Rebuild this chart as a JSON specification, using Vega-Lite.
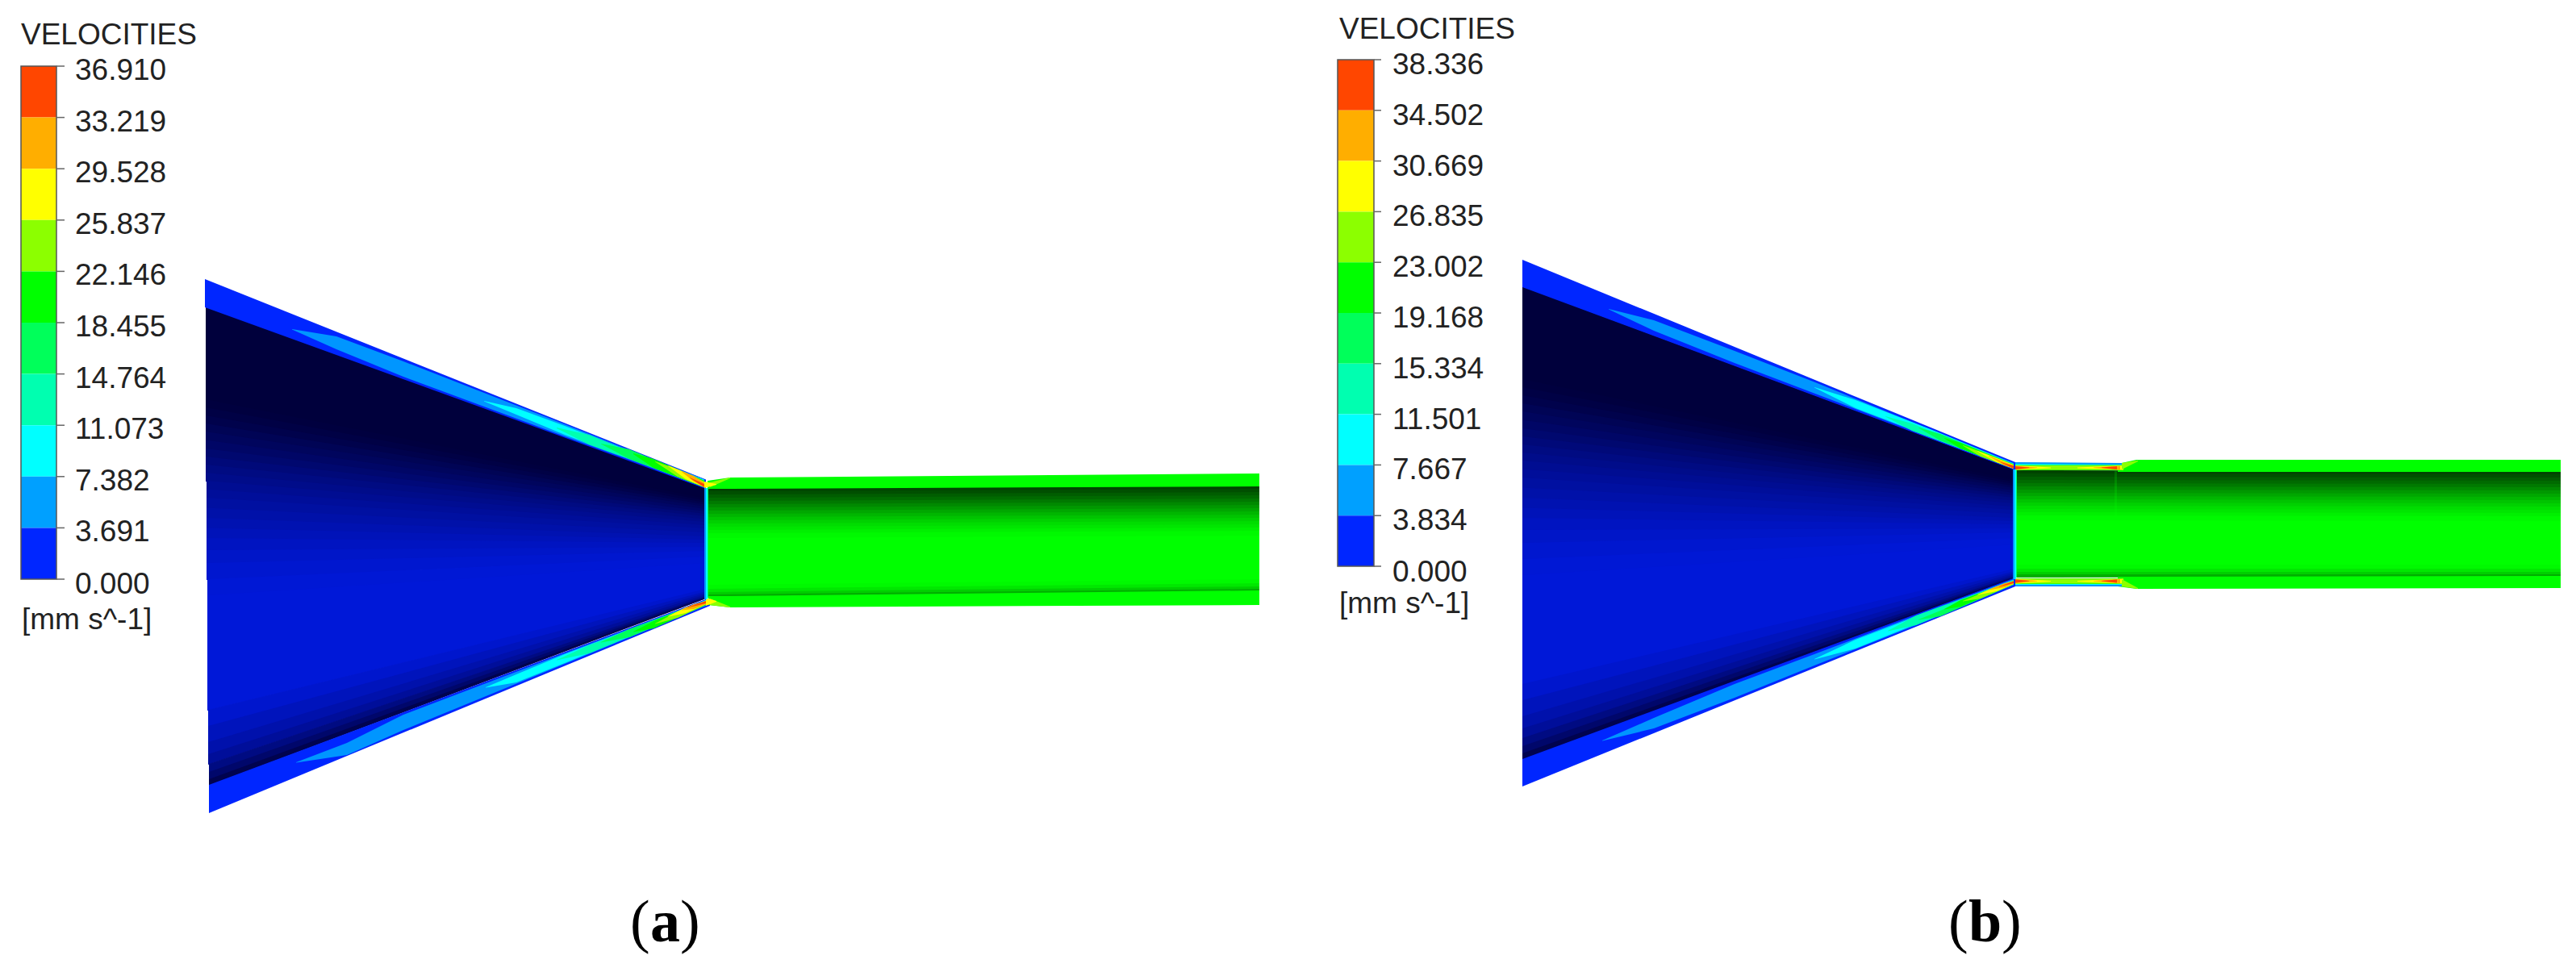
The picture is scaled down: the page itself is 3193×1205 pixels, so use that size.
{"$schema":"https://vega.github.io/schema/vega-lite/v6.json","width":3193,"height":1205,"autosize":{"type":"fit","contains":"padding"},"padding":0,"background":"white","config":{"view":{"stroke":null}},
"datasets":{
"blue":[
{"id":"a0","L":0,"x":255,"y":380,"y2":496},{"id":"a0","L":0,"x":875,"y":605,"y2":619},
{"id":"a1","L":0.02,"x":255,"y":495,"y2":506},{"id":"a1","L":0.02,"x":875,"y":618,"y2":621.5},
{"id":"a2","L":0.06,"x":255,"y":505,"y2":516},{"id":"a2","L":0.06,"x":875,"y":620.5,"y2":624},
{"id":"a3","L":0.1,"x":255,"y":515,"y2":526},{"id":"a3","L":0.1,"x":875,"y":623,"y2":626.5},
{"id":"a4","L":0.16,"x":255,"y":525,"y2":536},{"id":"a4","L":0.16,"x":875,"y":625.5,"y2":629},
{"id":"a5","L":0.21,"x":255,"y":535,"y2":546.5},{"id":"a5","L":0.21,"x":875,"y":628,"y2":632},
{"id":"a6","L":0.27,"x":255,"y":545.5,"y2":557},{"id":"a6","L":0.27,"x":875,"y":631,"y2":635},
{"id":"a7","L":0.33,"x":255,"y":556,"y2":567},{"id":"a7","L":0.33,"x":875,"y":634,"y2":638},
{"id":"a8","L":0.39,"x":255,"y":566,"y2":577},{"id":"a8","L":0.39,"x":875,"y":637,"y2":641},
{"id":"a9","L":0.45,"x":255,"y":576,"y2":587},{"id":"a9","L":0.45,"x":875,"y":640,"y2":644.5},
{"id":"a10","L":0.5,"x":255,"y":586,"y2":597},{"id":"a10","L":0.5,"x":875,"y":643.5,"y2":648},
{"id":"a11","L":0.55,"x":256,"y":596,"y2":607.5},{"id":"a11","L":0.55,"x":875,"y":647,"y2":652},
{"id":"a12","L":0.6,"x":256,"y":606.5,"y2":618},{"id":"a12","L":0.6,"x":875,"y":651,"y2":656},
{"id":"a13","L":0.65,"x":256,"y":617,"y2":630.5},{"id":"a13","L":0.65,"x":875,"y":655,"y2":661},
{"id":"a14","L":0.7,"x":256,"y":629.5,"y2":643},{"id":"a14","L":0.7,"x":875,"y":660,"y2":666},
{"id":"a15","L":0.75,"x":256,"y":642,"y2":655.5},{"id":"a15","L":0.75,"x":875,"y":665,"y2":670},
{"id":"a16","L":0.8,"x":256,"y":654.5,"y2":668},{"id":"a16","L":0.8,"x":875,"y":669,"y2":674},
{"id":"a17","L":0.85,"x":256,"y":667,"y2":683},{"id":"a17","L":0.85,"x":875,"y":673,"y2":679},
{"id":"a18","L":0.9,"x":256,"y":682,"y2":699},{"id":"a18","L":0.9,"x":875,"y":678,"y2":684},
{"id":"a19","L":0.94,"x":256,"y":698,"y2":719},{"id":"a19","L":0.94,"x":875,"y":683,"y2":691},
{"id":"a20","L":0.98,"x":257,"y":718,"y2":739},{"id":"a20","L":0.98,"x":875,"y":690,"y2":699},
{"id":"a21","L":1,"x":257,"y":738,"y2":881},{"id":"a21","L":1,"x":875,"y":698,"y2":731},
{"id":"a22","L":0.93,"x":258,"y":880,"y2":901},{"id":"a22","L":0.93,"x":875,"y":730,"y2":734},
{"id":"a23","L":0.82,"x":258,"y":900,"y2":921},{"id":"a23","L":0.82,"x":875,"y":733,"y2":736},
{"id":"a24","L":0.72,"x":258,"y":920,"y2":936},{"id":"a24","L":0.72,"x":875,"y":735,"y2":738},
{"id":"a25","L":0.6,"x":258,"y":935,"y2":948},{"id":"a25","L":0.6,"x":875,"y":737,"y2":740},
{"id":"a26","L":0.45,"x":259,"y":947,"y2":958},{"id":"a26","L":0.45,"x":875,"y":739,"y2":741},
{"id":"a27","L":0.3,"x":259,"y":957,"y2":967},{"id":"a27","L":0.3,"x":875,"y":740,"y2":742},
{"id":"a28","L":0.12,"x":259,"y":966,"y2":974},{"id":"a28","L":0.12,"x":875,"y":741,"y2":742},
{"id":"b0","L":0,"x":1887,"y":355,"y2":471},{"id":"b0","L":0,"x":2497,"y":582,"y2":596},
{"id":"b1","L":0.02,"x":1887,"y":470,"y2":481},{"id":"b1","L":0.02,"x":2497,"y":595,"y2":598.5},
{"id":"b2","L":0.06,"x":1887,"y":480,"y2":491},{"id":"b2","L":0.06,"x":2497,"y":597.5,"y2":601},
{"id":"b3","L":0.1,"x":1887,"y":490,"y2":501},{"id":"b3","L":0.1,"x":2497,"y":600,"y2":603.5},
{"id":"b4","L":0.16,"x":1887,"y":500,"y2":511},{"id":"b4","L":0.16,"x":2497,"y":602.5,"y2":606},
{"id":"b5","L":0.21,"x":1887,"y":510,"y2":521.5},{"id":"b5","L":0.21,"x":2497,"y":605,"y2":609},
{"id":"b6","L":0.27,"x":1887,"y":520.5,"y2":532},{"id":"b6","L":0.27,"x":2497,"y":608,"y2":612},
{"id":"b7","L":0.33,"x":1887,"y":531,"y2":542},{"id":"b7","L":0.33,"x":2497,"y":611,"y2":615},
{"id":"b8","L":0.39,"x":1887,"y":541,"y2":552},{"id":"b8","L":0.39,"x":2497,"y":614,"y2":618},
{"id":"b9","L":0.45,"x":1887,"y":551,"y2":562},{"id":"b9","L":0.45,"x":2497,"y":617,"y2":621.5},
{"id":"b10","L":0.5,"x":1887,"y":561,"y2":572},{"id":"b10","L":0.5,"x":2497,"y":620.5,"y2":625},
{"id":"b11","L":0.55,"x":1887,"y":571,"y2":582.5},{"id":"b11","L":0.55,"x":2497,"y":624,"y2":629},
{"id":"b12","L":0.6,"x":1887,"y":581.5,"y2":593},{"id":"b12","L":0.6,"x":2497,"y":628,"y2":633},
{"id":"b13","L":0.65,"x":1887,"y":592,"y2":605.5},{"id":"b13","L":0.65,"x":2497,"y":632,"y2":638},
{"id":"b14","L":0.7,"x":1887,"y":604.5,"y2":618},{"id":"b14","L":0.7,"x":2497,"y":637,"y2":643},
{"id":"b15","L":0.75,"x":1887,"y":617,"y2":630.5},{"id":"b15","L":0.75,"x":2497,"y":642,"y2":647},
{"id":"b16","L":0.8,"x":1887,"y":629.5,"y2":643},{"id":"b16","L":0.8,"x":2497,"y":646,"y2":651},
{"id":"b17","L":0.85,"x":1887,"y":642,"y2":658},{"id":"b17","L":0.85,"x":2497,"y":650,"y2":656},
{"id":"b18","L":0.9,"x":1887,"y":657,"y2":674},{"id":"b18","L":0.9,"x":2497,"y":655,"y2":661},
{"id":"b19","L":0.94,"x":1887,"y":673,"y2":694},{"id":"b19","L":0.94,"x":2497,"y":660,"y2":668},
{"id":"b20","L":0.98,"x":1887,"y":693,"y2":714},{"id":"b20","L":0.98,"x":2497,"y":667,"y2":676},
{"id":"b21","L":1,"x":1887,"y":713,"y2":849},{"id":"b21","L":1,"x":2497,"y":675,"y2":706},
{"id":"b22","L":0.93,"x":1887,"y":848,"y2":869},{"id":"b22","L":0.93,"x":2497,"y":705,"y2":709},
{"id":"b23","L":0.82,"x":1887,"y":868,"y2":889},{"id":"b23","L":0.82,"x":2497,"y":708,"y2":711},
{"id":"b24","L":0.72,"x":1887,"y":888,"y2":904},{"id":"b24","L":0.72,"x":2497,"y":710,"y2":713},
{"id":"b25","L":0.6,"x":1887,"y":903,"y2":916},{"id":"b25","L":0.6,"x":2497,"y":712,"y2":715},
{"id":"b26","L":0.45,"x":1887,"y":915,"y2":926},{"id":"b26","L":0.45,"x":2497,"y":714,"y2":716},
{"id":"b27","L":0.3,"x":1887,"y":925,"y2":935},{"id":"b27","L":0.3,"x":2497,"y":715,"y2":717},
{"id":"b28","L":0.12,"x":1887,"y":934,"y2":942},{"id":"b28","L":0.12,"x":2497,"y":716,"y2":717}
],
"green":[
{"id":"a0","L":0.02,"x":877,"y":605,"y2":610},{"id":"a0","L":0.02,"x":1561,"y":602,"y2":607},
{"id":"a1","L":0.08,"x":877,"y":609,"y2":614},{"id":"a1","L":0.08,"x":1561,"y":606,"y2":611},
{"id":"a2","L":0.15,"x":877,"y":613,"y2":618},{"id":"a2","L":0.15,"x":1561,"y":610,"y2":615},
{"id":"a3","L":0.22,"x":877,"y":617,"y2":622},{"id":"a3","L":0.22,"x":1561,"y":614,"y2":619},
{"id":"a4","L":0.3,"x":877,"y":621,"y2":626},{"id":"a4","L":0.3,"x":1561,"y":618,"y2":623},
{"id":"a5","L":0.38,"x":877,"y":625,"y2":630},{"id":"a5","L":0.38,"x":1561,"y":622,"y2":627},
{"id":"a6","L":0.46,"x":877,"y":629,"y2":634},{"id":"a6","L":0.46,"x":1561,"y":626,"y2":631},
{"id":"a7","L":0.54,"x":877,"y":633,"y2":638},{"id":"a7","L":0.54,"x":1561,"y":630,"y2":635},
{"id":"a8","L":0.62,"x":877,"y":637,"y2":642},{"id":"a8","L":0.62,"x":1561,"y":634,"y2":639},
{"id":"a9","L":0.69,"x":877,"y":641,"y2":646},{"id":"a9","L":0.69,"x":1561,"y":638,"y2":643},
{"id":"a10","L":0.76,"x":877,"y":645,"y2":650},{"id":"a10","L":0.76,"x":1561,"y":642,"y2":647},
{"id":"a11","L":0.82,"x":877,"y":649,"y2":654},{"id":"a11","L":0.82,"x":1561,"y":646,"y2":651},
{"id":"a12","L":0.87,"x":877,"y":653,"y2":658},{"id":"a12","L":0.87,"x":1561,"y":650,"y2":655},
{"id":"a13","L":0.92,"x":877,"y":657,"y2":662},{"id":"a13","L":0.92,"x":1561,"y":654,"y2":659},
{"id":"a14","L":0.97,"x":877,"y":661,"y2":668},{"id":"a14","L":0.97,"x":1561,"y":658,"y2":665},
{"id":"a15","L":1,"x":877,"y":667,"y2":726},{"id":"a15","L":1,"x":1561,"y":664,"y2":719},
{"id":"a16","L":0.97,"x":877,"y":725,"y2":731},{"id":"a16","L":0.97,"x":1561,"y":718,"y2":724},
{"id":"a17","L":0.88,"x":877,"y":730,"y2":735},{"id":"a17","L":0.88,"x":1561,"y":723,"y2":728},
{"id":"a18","L":0.75,"x":877,"y":734,"y2":738},{"id":"a18","L":0.75,"x":1561,"y":727,"y2":731},
{"id":"a19","L":0.58,"x":877,"y":737,"y2":740},{"id":"a19","L":0.58,"x":1561,"y":730,"y2":733},
{"id":"b0","L":0.02,"x":2499,"y":583,"y2":588},{"id":"b0","L":0.02,"x":3174,"y":584,"y2":589},
{"id":"b1","L":0.08,"x":2499,"y":587,"y2":592},{"id":"b1","L":0.08,"x":3174,"y":588,"y2":593},
{"id":"b2","L":0.15,"x":2499,"y":591,"y2":596},{"id":"b2","L":0.15,"x":3174,"y":592,"y2":597},
{"id":"b3","L":0.22,"x":2499,"y":595,"y2":600},{"id":"b3","L":0.22,"x":3174,"y":596,"y2":601},
{"id":"b4","L":0.3,"x":2499,"y":599,"y2":604},{"id":"b4","L":0.3,"x":3174,"y":600,"y2":605},
{"id":"b5","L":0.38,"x":2499,"y":603,"y2":608},{"id":"b5","L":0.38,"x":3174,"y":604,"y2":609},
{"id":"b6","L":0.46,"x":2499,"y":607,"y2":612},{"id":"b6","L":0.46,"x":3174,"y":608,"y2":613},
{"id":"b7","L":0.54,"x":2499,"y":611,"y2":616},{"id":"b7","L":0.54,"x":3174,"y":612,"y2":617},
{"id":"b8","L":0.62,"x":2499,"y":615,"y2":620},{"id":"b8","L":0.62,"x":3174,"y":616,"y2":621},
{"id":"b9","L":0.69,"x":2499,"y":619,"y2":624},{"id":"b9","L":0.69,"x":3174,"y":620,"y2":625},
{"id":"b10","L":0.76,"x":2499,"y":623,"y2":628},{"id":"b10","L":0.76,"x":3174,"y":624,"y2":629},
{"id":"b11","L":0.82,"x":2499,"y":627,"y2":632},{"id":"b11","L":0.82,"x":3174,"y":628,"y2":633},
{"id":"b12","L":0.87,"x":2499,"y":631,"y2":636},{"id":"b12","L":0.87,"x":3174,"y":632,"y2":637},
{"id":"b13","L":0.92,"x":2499,"y":635,"y2":640},{"id":"b13","L":0.92,"x":3174,"y":636,"y2":641},
{"id":"b14","L":0.97,"x":2499,"y":639,"y2":646},{"id":"b14","L":0.97,"x":3174,"y":640,"y2":647},
{"id":"b15","L":1,"x":2499,"y":645,"y2":701},{"id":"b15","L":1,"x":3174,"y":646,"y2":701},
{"id":"b16","L":0.97,"x":2499,"y":700,"y2":706},{"id":"b16","L":0.97,"x":3174,"y":700,"y2":706},
{"id":"b17","L":0.88,"x":2499,"y":705,"y2":710},{"id":"b17","L":0.88,"x":3174,"y":705,"y2":710},
{"id":"b18","L":0.75,"x":2499,"y":709,"y2":713},{"id":"b18","L":0.75,"x":3174,"y":709,"y2":713},
{"id":"b19","L":0.58,"x":2499,"y":712,"y2":716},{"id":"b19","L":0.58,"x":3174,"y":712,"y2":715}
],
"rims":[
{"id":"at0","band":"b1","x":254,"y":346,"y2":381},{"id":"at0","band":"b1","x":875,"y":594.5,"y2":606},
{"id":"at1","band":"b2","x":362,"y":408,"y2":408.5},{"id":"at1","band":"b2","x":417,"y":417,"y2":433},{"id":"at1","band":"b2","x":500,"y":448,"y2":467},{"id":"at1","band":"b2","x":600,"y":487,"y2":504},{"id":"at1","band":"b2","x":700,"y":526,"y2":541},{"id":"at1","band":"b2","x":800,"y":566,"y2":577},{"id":"at1","band":"b2","x":873,"y":594,"y2":604},
{"id":"at2","band":"b3","x":600,"y":497,"y2":497.5},{"id":"at2","band":"b3","x":640,"y":506,"y2":514},{"id":"at2","band":"b3","x":700,"y":528,"y2":539},{"id":"at2","band":"b3","x":800,"y":567,"y2":576},{"id":"at2","band":"b3","x":873,"y":595,"y2":604},
{"id":"at3","band":"b4","x":690,"y":530,"y2":531},{"id":"at3","band":"b4","x":730,"y":539,"y2":551},{"id":"at3","band":"b4","x":800,"y":568,"y2":576},{"id":"at3","band":"b4","x":873,"y":595.5,"y2":604},
{"id":"at4","band":"b5","x":745,"y":550,"y2":550.5},{"id":"at4","band":"b5","x":780,"y":557,"y2":569},{"id":"at4","band":"b5","x":873,"y":596,"y2":604},
{"id":"at5","band":"b6","x":785,"y":562,"y2":563},{"id":"at5","band":"b6","x":810,"y":569,"y2":580},{"id":"at5","band":"b6","x":873,"y":596,"y2":604},
{"id":"at6","band":"b7","x":812,"y":572,"y2":572.5},{"id":"at6","band":"b7","x":840,"y":582,"y2":591},{"id":"at6","band":"b7","x":873,"y":597,"y2":604},
{"id":"at7","band":"b8","x":828,"y":577,"y2":577.5},{"id":"at7","band":"b8","x":850,"y":586,"y2":594},{"id":"at7","band":"b8","x":873,"y":598,"y2":604},
{"id":"at8","band":"b9","x":845,"y":584,"y2":585},{"id":"at8","band":"b9","x":860,"y":590,"y2":597},{"id":"at8","band":"b9","x":873,"y":598.5,"y2":604},
{"id":"at9","band":"b10","x":855,"y":592,"y2":592.5},{"id":"at9","band":"b10","x":873,"y":600,"y2":604},
{"id":"ab0","band":"b1","x":259,"y":973,"y2":1008},{"id":"ab0","band":"b1","x":880,"y":741,"y2":751},
{"id":"ab1","band":"b2","x":367,"y":945,"y2":945.5},{"id":"ab1","band":"b2","x":430,"y":921,"y2":936},{"id":"ab1","band":"b2","x":500,"y":886,"y2":905},{"id":"ab1","band":"b2","x":600,"y":848,"y2":864},{"id":"ab1","band":"b2","x":700,"y":810,"y2":823},{"id":"ab1","band":"b2","x":800,"y":772,"y2":782},{"id":"ab1","band":"b2","x":875,"y":744,"y2":751},
{"id":"ab2","band":"b3","x":602,"y":852,"y2":852.5},{"id":"ab2","band":"b3","x":640,"y":836,"y2":846},{"id":"ab2","band":"b3","x":700,"y":811,"y2":822},{"id":"ab2","band":"b3","x":800,"y":773,"y2":781},{"id":"ab2","band":"b3","x":875,"y":744,"y2":750},
{"id":"ab3","band":"b4","x":690,"y":818,"y2":818.5},{"id":"ab3","band":"b4","x":730,"y":800,"y2":810},{"id":"ab3","band":"b4","x":800,"y":773.5,"y2":781},{"id":"ab3","band":"b4","x":875,"y":744.5,"y2":750},
{"id":"ab4","band":"b5","x":745,"y":796,"y2":796.5},{"id":"ab4","band":"b5","x":780,"y":780,"y2":790},{"id":"ab4","band":"b5","x":875,"y":745,"y2":750},
{"id":"ab5","band":"b6","x":785,"y":783,"y2":783.5},{"id":"ab5","band":"b6","x":810,"y":770,"y2":779},{"id":"ab5","band":"b6","x":875,"y":745,"y2":750},
{"id":"ab6","band":"b7","x":812,"y":773,"y2":773.5},{"id":"ab6","band":"b7","x":840,"y":758,"y2":766},{"id":"ab6","band":"b7","x":875,"y":745,"y2":749.5},
{"id":"ab7","band":"b8","x":828,"y":764,"y2":764.5},{"id":"ab7","band":"b8","x":850,"y":753,"y2":760},{"id":"ab7","band":"b8","x":875,"y":745,"y2":749},
{"id":"ab8","band":"b9","x":845,"y":756,"y2":756.5},{"id":"ab8","band":"b9","x":860,"y":749,"y2":755},{"id":"ab8","band":"b9","x":875,"y":745.5,"y2":749},
{"id":"ab9","band":"b10","x":852,"y":753,"y2":753.5},{"id":"ab9","band":"b10","x":875,"y":745,"y2":748},
{"id":"ap0","band":"b6","x":877,"y":596,"y2":606},{"id":"ap0","band":"b6","x":905,"y":592,"y2":606},{"id":"ap0","band":"b6","x":1561,"y":587,"y2":603},
{"id":"ap1","band":"b6","x":878,"y":739,"y2":750},{"id":"ap1","band":"b6","x":905,"y":739,"y2":753},{"id":"ap1","band":"b6","x":1561,"y":732,"y2":750},
{"id":"ap2","band":"b7","x":880,"y":598,"y2":604},{"id":"ap2","band":"b7","x":905,"y":592,"y2":593},
{"id":"ap3","band":"b8","x":873,"y":597,"y2":605},{"id":"ap3","band":"b8","x":888,"y":600,"y2":601},
{"id":"ap4","band":"b7","x":880,"y":742,"y2":750},{"id":"ap4","band":"b7","x":905,"y":752,"y2":753},
{"id":"ap5","band":"b8","x":875,"y":741,"y2":751},{"id":"ap5","band":"b8","x":888,"y":745,"y2":746},
{"id":"aj0","band":"b2","x":873,"y":605,"y2":743},{"id":"aj0","band":"b2","x":875,"y":605,"y2":743},
{"id":"aj1","band":"b3","x":875,"y":605,"y2":743},{"id":"aj1","band":"b3","x":877,"y":605,"y2":743},
{"id":"aj2","band":"b5","x":877,"y":606,"y2":741},{"id":"aj2","band":"b5","x":878,"y":606,"y2":741},
{"id":"bt0","band":"b1","x":1887,"y":322,"y2":356},{"id":"bt0","band":"b1","x":2498,"y":573,"y2":583},
{"id":"bt1","band":"b2","x":1994,"y":383,"y2":383.5},{"id":"bt1","band":"b2","x":2050,"y":397,"y2":410},{"id":"bt1","band":"b2","x":2150,"y":435,"y2":450},{"id":"bt1","band":"b2","x":2250,"y":474,"y2":488},{"id":"bt1","band":"b2","x":2350,"y":515,"y2":526},{"id":"bt1","band":"b2","x":2496,"y":574,"y2":581},
{"id":"bt2","band":"b3","x":2249,"y":480,"y2":480.5},{"id":"bt2","band":"b3","x":2300,"y":496,"y2":506},{"id":"bt2","band":"b3","x":2400,"y":535,"y2":544},{"id":"bt2","band":"b3","x":2496,"y":575,"y2":581},
{"id":"bt3","band":"b4","x":2337,"y":516,"y2":516.5},{"id":"bt3","band":"b4","x":2370,"y":525,"y2":534},{"id":"bt3","band":"b4","x":2496,"y":575.5,"y2":581},
{"id":"bt4","band":"b5","x":2378,"y":530,"y2":530.5},{"id":"bt4","band":"b5","x":2405,"y":538,"y2":546},{"id":"bt4","band":"b5","x":2496,"y":575.5,"y2":581},
{"id":"bt5","band":"b6","x":2410,"y":543,"y2":543.5},{"id":"bt5","band":"b6","x":2430,"y":549,"y2":556},{"id":"bt5","band":"b6","x":2496,"y":576,"y2":581},
{"id":"bt6","band":"b7","x":2433,"y":552,"y2":552.5},{"id":"bt6","band":"b7","x":2455,"y":560,"y2":566},{"id":"bt6","band":"b7","x":2496,"y":576,"y2":581},
{"id":"bt7","band":"b8","x":2451,"y":559,"y2":559.5},{"id":"bt7","band":"b8","x":2475,"y":568,"y2":573},{"id":"bt7","band":"b8","x":2496,"y":576.5,"y2":581},
{"id":"bt8","band":"b9","x":2465,"y":565,"y2":565.5},{"id":"bt8","band":"b9","x":2485,"y":573,"y2":577},{"id":"bt8","band":"b9","x":2496,"y":577,"y2":581},
{"id":"bt9","band":"b10","x":2480,"y":573,"y2":573.5},{"id":"bt9","band":"b10","x":2496,"y":577.5,"y2":581},
{"id":"bb0","band":"b1","x":1887,"y":941,"y2":975},{"id":"bb0","band":"b1","x":2498,"y":716,"y2":727},
{"id":"bb1","band":"b2","x":1986,"y":918,"y2":918.5},{"id":"bb1","band":"b2","x":2050,"y":890,"y2":903},{"id":"bb1","band":"b2","x":2150,"y":848,"y2":865},{"id":"bb1","band":"b2","x":2249,"y":811,"y2":825},{"id":"bb1","band":"b2","x":2400,"y":753.5,"y2":765},{"id":"bb1","band":"b2","x":2496,"y":718,"y2":725},
{"id":"bb2","band":"b3","x":2249,"y":817,"y2":817.5},{"id":"bb2","band":"b3","x":2300,"y":793,"y2":804},{"id":"bb2","band":"b3","x":2400,"y":755,"y2":763.5},{"id":"bb2","band":"b3","x":2496,"y":719,"y2":724.5},
{"id":"bb3","band":"b4","x":2340,"y":782,"y2":782.5},{"id":"bb3","band":"b4","x":2375,"y":763,"y2":775},{"id":"bb3","band":"b4","x":2496,"y":719.5,"y2":724.5},
{"id":"bb4","band":"b5","x":2378,"y":768,"y2":768.5},{"id":"bb4","band":"b5","x":2405,"y":757,"y2":764},{"id":"bb4","band":"b5","x":2496,"y":720,"y2":724.5},
{"id":"bb5","band":"b6","x":2410,"y":755,"y2":755.5},{"id":"bb5","band":"b6","x":2430,"y":744,"y2":752},{"id":"bb5","band":"b6","x":2496,"y":720,"y2":724},
{"id":"bb6","band":"b7","x":2433,"y":745,"y2":745.5},{"id":"bb6","band":"b7","x":2455,"y":736,"y2":742},{"id":"bb6","band":"b7","x":2496,"y":720,"y2":724},
{"id":"bb7","band":"b8","x":2451,"y":737,"y2":737.5},{"id":"bb7","band":"b8","x":2475,"y":727,"y2":733},{"id":"bb7","band":"b8","x":2496,"y":720.5,"y2":724},
{"id":"bb8","band":"b9","x":2465,"y":731,"y2":731.5},{"id":"bb8","band":"b9","x":2485,"y":723,"y2":728},{"id":"bb8","band":"b9","x":2496,"y":720.5,"y2":723.5},
{"id":"bb9","band":"b10","x":2478,"y":727,"y2":727.5},{"id":"bb9","band":"b10","x":2496,"y":720.5,"y2":723},
{"id":"bp0","band":"b6","x":2625,"y":575,"y2":585},{"id":"bp0","band":"b6","x":2648,"y":570,"y2":585},{"id":"bp0","band":"b6","x":3174,"y":570,"y2":585},
{"id":"bp1","band":"b6","x":2625,"y":715,"y2":727},{"id":"bp1","band":"b6","x":2648,"y":715,"y2":730},{"id":"bp1","band":"b6","x":3174,"y":714,"y2":729},
{"id":"bm0","band":"b2","x":2498,"y":573,"y2":583},{"id":"bm0","band":"b2","x":2632,"y":574,"y2":583},
{"id":"bm1","band":"b3","x":2498,"y":575,"y2":583},{"id":"bm1","band":"b3","x":2632,"y":576,"y2":583},
{"id":"bm2","band":"b6","x":2498,"y":576.5,"y2":583},{"id":"bm2","band":"b6","x":2632,"y":576.5,"y2":583},
{"id":"bm3","band":"b7","x":2498,"y":577,"y2":582.5},{"id":"bm3","band":"b7","x":2632,"y":577,"y2":582.5},
{"id":"bm4","band":"b8","x":2498,"y":577,"y2":582.5},{"id":"bm4","band":"b8","x":2542,"y":579.5,"y2":580.5},
{"id":"bm5","band":"b9","x":2498,"y":577.5,"y2":582.5},{"id":"bm5","band":"b9","x":2525,"y":579.5,"y2":580},
{"id":"bm6","band":"b10","x":2498,"y":578,"y2":582},{"id":"bm6","band":"b10","x":2515,"y":579.5,"y2":580},
{"id":"bm7","band":"b8","x":2575,"y":579.5,"y2":580.5},{"id":"bm7","band":"b8","x":2632,"y":577,"y2":582.5},
{"id":"bm8","band":"b9","x":2595,"y":579.5,"y2":580},{"id":"bm8","band":"b9","x":2628,"y":577.5,"y2":582.5},
{"id":"bm9","band":"b10","x":2605,"y":579.5,"y2":580},{"id":"bm9","band":"b10","x":2624,"y":578,"y2":582},
{"id":"bn0","band":"b2","x":2498,"y":717,"y2":727},{"id":"bn0","band":"b2","x":2632,"y":717,"y2":727},
{"id":"bn1","band":"b3","x":2498,"y":717,"y2":725},{"id":"bn1","band":"b3","x":2632,"y":717,"y2":725},
{"id":"bn2","band":"b6","x":2498,"y":717,"y2":724},{"id":"bn2","band":"b6","x":2632,"y":717,"y2":724},
{"id":"bn3","band":"b7","x":2498,"y":717.5,"y2":723.5},{"id":"bn3","band":"b7","x":2632,"y":717.5,"y2":723.5},
{"id":"bn4","band":"b8","x":2498,"y":717.5,"y2":723.5},{"id":"bn4","band":"b8","x":2542,"y":720,"y2":721},
{"id":"bn5","band":"b9","x":2498,"y":718,"y2":723},{"id":"bn5","band":"b9","x":2525,"y":720,"y2":720.5},
{"id":"bn6","band":"b10","x":2498,"y":718.5,"y2":722.5},{"id":"bn6","band":"b10","x":2515,"y":720,"y2":720.5},
{"id":"bn7","band":"b8","x":2575,"y":720,"y2":721},{"id":"bn7","band":"b8","x":2632,"y":717.5,"y2":723.5},
{"id":"bn8","band":"b9","x":2595,"y":720,"y2":720.5},{"id":"bn8","band":"b9","x":2628,"y":718,"y2":723},
{"id":"bn9","band":"b10","x":2605,"y":720,"y2":720.5},{"id":"bn9","band":"b10","x":2624,"y":718.5,"y2":722.5},
{"id":"bw0","band":"b7","x":2630,"y":574,"y2":582},{"id":"bw0","band":"b7","x":2650,"y":571,"y2":572},
{"id":"bw1","band":"b7","x":2630,"y":718,"y2":727},{"id":"bw1","band":"b7","x":2650,"y":729,"y2":730},
{"id":"bj0","band":"b2","x":2495,"y":582,"y2":718},{"id":"bj0","band":"b2","x":2497,"y":582,"y2":718},
{"id":"bj1","band":"b3","x":2497,"y":582,"y2":718},{"id":"bj1","band":"b3","x":2499,"y":582,"y2":718},
{"id":"bj2","band":"b5","x":2499,"y":583,"y2":716},{"id":"bj2","band":"b5","x":2500,"y":583,"y2":716}
],
"seam":[{"id":"s","x":2621,"y":584,"y2":640},{"id":"s","x":2624,"y":584,"y2":640}],
"bars":[
{"band":"b10","x":26,"x2":70,"y":82,"y2":145.6},{"band":"b9","x":26,"x2":70,"y":145.6,"y2":209.2},{"band":"b8","x":26,"x2":70,"y":209.2,"y2":272.8},{"band":"b7","x":26,"x2":70,"y":272.8,"y2":336.4},{"band":"b6","x":26,"x2":70,"y":336.4,"y2":400},{"band":"b5","x":26,"x2":70,"y":400,"y2":463.6},{"band":"b4","x":26,"x2":70,"y":463.6,"y2":527.2},{"band":"b3","x":26,"x2":70,"y":527.2,"y2":590.8},{"band":"b2","x":26,"x2":70,"y":590.8,"y2":654.4},{"band":"b1","x":26,"x2":70,"y":654.4,"y2":718},
{"band":"b10","x":1658,"x2":1703,"y":74,"y2":136.8},{"band":"b9","x":1658,"x2":1703,"y":136.8,"y2":199.6},{"band":"b8","x":1658,"x2":1703,"y":199.6,"y2":262.4},{"band":"b7","x":1658,"x2":1703,"y":262.4,"y2":325.2},{"band":"b6","x":1658,"x2":1703,"y":325.2,"y2":388},{"band":"b5","x":1658,"x2":1703,"y":388,"y2":450.8},{"band":"b4","x":1658,"x2":1703,"y":450.8,"y2":513.6},{"band":"b3","x":1658,"x2":1703,"y":513.6,"y2":576.4},{"band":"b2","x":1658,"x2":1703,"y":576.4,"y2":639.2},{"band":"b1","x":1658,"x2":1703,"y":639.2,"y2":702}
],
"frames":[{"x":26,"x2":70,"y":82,"y2":718},{"x":1658,"x2":1703,"y":74,"y2":702}],
"ticks":[
{"x":70,"x2":80,"y":82},{"x":70,"x2":80,"y":145.6},{"x":70,"x2":80,"y":209.2},{"x":70,"x2":80,"y":272.8},{"x":70,"x2":80,"y":336.4},{"x":70,"x2":80,"y":400},{"x":70,"x2":80,"y":463.6},{"x":70,"x2":80,"y":527.2},{"x":70,"x2":80,"y":590.8},{"x":70,"x2":80,"y":654.4},{"x":70,"x2":80,"y":718},
{"x":1703,"x2":1712,"y":74},{"x":1703,"x2":1712,"y":136.8},{"x":1703,"x2":1712,"y":199.6},{"x":1703,"x2":1712,"y":262.4},{"x":1703,"x2":1712,"y":325.2},{"x":1703,"x2":1712,"y":388},{"x":1703,"x2":1712,"y":450.8},{"x":1703,"x2":1712,"y":513.6},{"x":1703,"x2":1712,"y":576.4},{"x":1703,"x2":1712,"y":639.2},{"x":1703,"x2":1712,"y":702}
],
"labels":[
{"t":"VELOCITIES","x":26,"y":55},{"t":"36.910","x":93,"y":99},{"t":"33.219","x":93,"y":162.6},{"t":"29.528","x":93,"y":226.2},{"t":"25.837","x":93,"y":289.8},{"t":"22.146","x":93,"y":353.4},{"t":"18.455","x":93,"y":417},{"t":"14.764","x":93,"y":480.6},{"t":"11.073","x":93,"y":544.2},{"t":"7.382","x":93,"y":607.8},{"t":"3.691","x":93,"y":671.4},{"t":"0.000","x":93,"y":736},{"t":"[mm s^-1]","x":27,"y":780},
{"t":"VELOCITIES","x":1660,"y":48},{"t":"38.336","x":1726,"y":92},{"t":"34.502","x":1726,"y":154.8},{"t":"30.669","x":1726,"y":217.6},{"t":"26.835","x":1726,"y":280.4},{"t":"23.002","x":1726,"y":343.2},{"t":"19.168","x":1726,"y":406},{"t":"15.334","x":1726,"y":468.8},{"t":"11.501","x":1726,"y":531.6},{"t":"7.667","x":1726,"y":594.4},{"t":"3.834","x":1726,"y":657.2},{"t":"0.000","x":1726,"y":721},{"t":"[mm s^-1]","x":1660,"y":760}
],
"parens":[{"t":"(","x":781,"y":1167},{"t":")","x":843,"y":1167},{"t":"(","x":2415,"y":1167},{"t":")","x":2481,"y":1167}],
"letters":[{"t":"a","x":806,"y":1167},{"t":"b","x":2440,"y":1167}]
},
"encoding":{
"x":{"field":"x","type":"quantitative","axis":null,"scale":{"domain":[0,3193],"nice":false,"zero":false}},
"y":{"field":"y","type":"quantitative","axis":null,"scale":{"domain":[1205,0],"nice":false,"zero":false}}
},
"resolve":{"scale":{"fill":"independent"}},
"layer":[
{"data":{"name":"blue"},"mark":{"type":"area"},"encoding":{"y2":{"field":"y2"},"detail":{"field":"id"},"fill":{"field":"L","type":"quantitative","legend":null,"scale":{"domain":[0,1],"range":["#00003c","#0018d8"],"interpolate":"rgb"}}}},
{"data":{"name":"green"},"mark":{"type":"area"},"encoding":{"y2":{"field":"y2"},"detail":{"field":"id"},"fill":{"field":"L","type":"quantitative","legend":null,"scale":{"domain":[0,1],"range":["#004000","#00ff00"],"interpolate":"rgb"}}}},
{"data":{"name":"seam"},"mark":{"type":"area","fill":"#00ff00","opacity":0.2},"encoding":{"y2":{"field":"y2"},"detail":{"field":"id"}}},
{"data":{"name":"rims"},"mark":{"type":"area"},"encoding":{"y2":{"field":"y2"},"detail":{"field":"id"},"fill":{"field":"band","type":"nominal","legend":null,"scale":{"domain":["b1","b2","b3","b4","b5","b6","b7","b8","b9","b10"],"range":["#0026ff","#0096ff","#00ffff","#00ffb0","#00ff5a","#00ff00","#8cff00","#ffff00","#ffae00","#ff4600"]}}}},
{"data":{"name":"bars"},"mark":{"type":"rect"},"encoding":{"x2":{"field":"x2"},"y2":{"field":"y2"},"fill":{"field":"band","type":"nominal","legend":null,"scale":{"domain":["b1","b2","b3","b4","b5","b6","b7","b8","b9","b10"],"range":["#0026ff","#00a0ff","#00ffff","#00ffb0","#00ff5a","#00ff00","#8cff00","#ffff00","#ffae00","#ff4600"]}}}},
{"data":{"name":"frames"},"mark":{"type":"rect","fill":null,"stroke":"#555555","strokeWidth":1.5},"encoding":{"x2":{"field":"x2"},"y2":{"field":"y2"}}},
{"data":{"name":"ticks"},"mark":{"type":"rule","stroke":"#666666","strokeWidth":1.5},"encoding":{"x2":{"field":"x2"}}},
{"data":{"name":"labels"},"mark":{"type":"text","font":"Liberation Sans","fontSize":37,"fill":"#222222","align":"left","baseline":"alphabetic"},"encoding":{"text":{"field":"t"}}},
{"data":{"name":"parens"},"mark":{"type":"text","font":"Liberation Serif","fontSize":74,"fill":"#000000","align":"left","baseline":"alphabetic"},"encoding":{"text":{"field":"t"}}},
{"data":{"name":"letters"},"mark":{"type":"text","font":"Liberation Serif","fontWeight":"bold","fontSize":74,"fill":"#000000","align":"left","baseline":"alphabetic"},"encoding":{"text":{"field":"t"}}}
]}
